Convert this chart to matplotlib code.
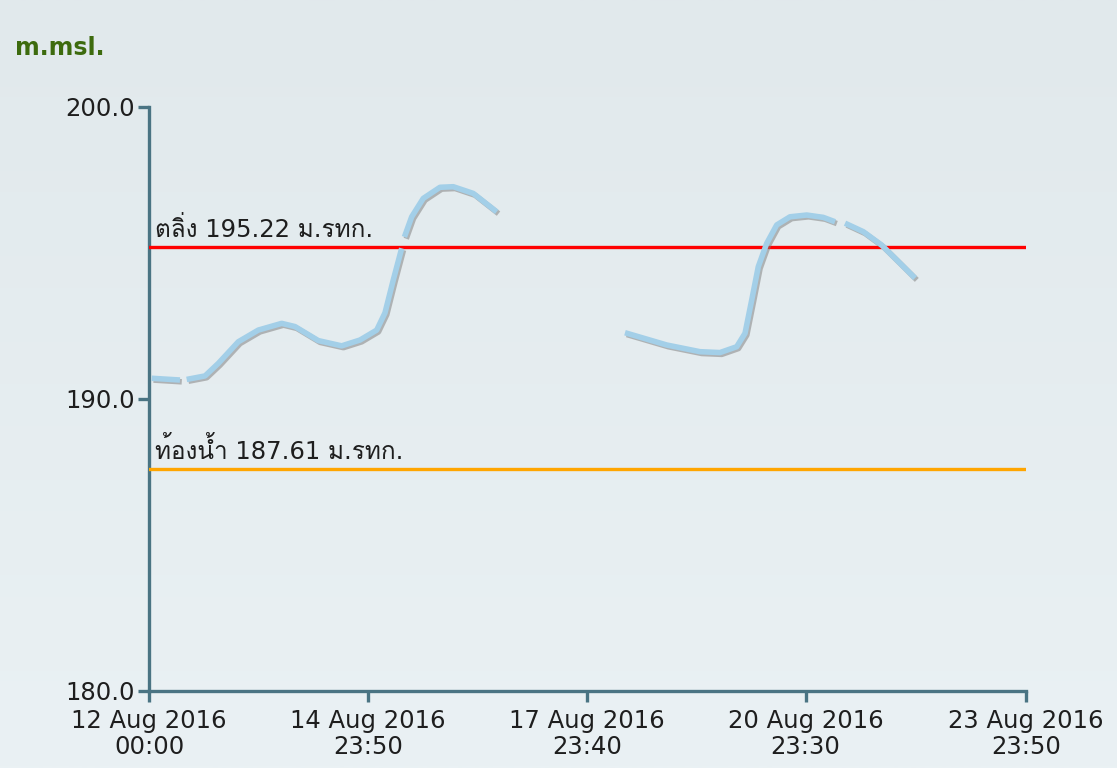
import numpy as np
import pandas as pd
import matplotlib
matplotlib.use("Agg")
import matplotlib.pyplot as plt
import matplotlib.patheffects as pe
from matplotlib import font_manager
from matplotlib.ft2font import FT2Font

# ---------------- data ----------------
times = [
    "2016-08-12 00:53", "2016-08-12 10:10", None,
    "2016-08-12 12:22", "2016-08-12 18:23", "2016-08-12 22:45", "2016-08-13 05:19",
    "2016-08-13 11:52", "2016-08-13 19:33", "2016-08-13 23:55", "2016-08-14 07:34",
    "2016-08-14 15:14", "2016-08-14 21:15", "2016-08-15 02:44", "2016-08-15 05:27",
    "2016-08-15 08:11", "2016-08-15 10:56", None,
    "2016-08-15 11:50", "2016-08-15 14:13", "2016-08-15 18:01", "2016-08-15 23:30",
    "2016-08-16 03:52", "2016-08-16 10:26", "2016-08-16 18:07", None,
    "2016-08-18 12:13", "2016-08-19 01:54", "2016-08-19 12:50", "2016-08-19 19:24",
    "2016-08-20 00:53", "2016-08-20 03:37", "2016-08-20 05:49", "2016-08-20 07:58",
    "2016-08-20 10:44", "2016-08-20 14:01", "2016-08-20 18:23", "2016-08-20 23:52",
    "2016-08-21 05:18", "2016-08-21 09:09", None,
    "2016-08-21 12:26", "2016-08-21 18:26", "2016-08-22 00:28", "2016-08-22 06:29",
    "2016-08-22 11:24",
]
levels = [
    190.71, 190.65, None,
    190.67, 190.79, 191.22, 191.96,
    192.36, 192.59, 192.48, 192.00,
    191.82, 192.02, 192.36, 192.95,
    194.08, 195.16, None,
    195.55, 196.24, 196.87, 197.25,
    197.27, 197.04, 196.41, None,
    192.27, 191.85, 191.62, 191.59,
    191.79, 192.25, 193.39, 194.53,
    195.33, 195.96, 196.24, 196.30,
    196.22, 196.07, None,
    196.02, 195.73, 195.27, 194.65,
    194.14,
]
bank_level = 195.22
bed_level = 187.61
bank_label = "ตลิ่ง 195.22 ม.รทก."
bed_label = "ท้องน้ำ 187.61 ม.รทก."
y_ticks = [180.0, 190.0, 200.0]
x_ticks = ["2016-08-12 00:00", "2016-08-14 23:50", "2016-08-17 23:40",
           "2016-08-20 23:30", "2016-08-23 23:50"]
x_tick_labels = ["12 Aug 2016\n00:00", "14 Aug 2016\n23:50", "17 Aug 2016\n23:40",
                 "20 Aug 2016\n23:30", "23 Aug 2016\n23:50"]
y_unit = "m.msl."

# ---------------- fonts ----------------
def find_thai_font():
    for f in font_manager.fontManager.ttflist:
        try:
            cm = FT2Font(f.fname).get_charmap()
            if 0x0E15 in cm and 0x0E49 in cm:
                return f.name
        except Exception:
            pass
    return None

thai = find_thai_font()
fam = ["DejaVu Sans"] + ([thai] if thai else [])
plt.rcParams["font.family"] = fam

FS = 17.5
TXT = "#1e1e1e"

# ---------------- figure ----------------
W, H, DPI = 1117, 768, 100
fig = plt.figure(figsize=(W / DPI, H / DPI), dpi=DPI)

bg = fig.add_axes([0, 0, 1, 1], zorder=-10)
grad = np.linspace(0, 1, 256).reshape(-1, 1)
c_top = np.array([225, 233, 236]) / 255
c_bot = np.array([234, 241, 244]) / 255
img = c_top + (c_bot - c_top) * grad[:, :, None]
bg.imshow(img, aspect="auto", extent=[0, 1, 0, 1])
bg.axis("off")

ax = fig.add_axes([149 / W, 1 - 691 / H, (1026 - 149) / W, (691 - 107) / H])
ax.patch.set_alpha(0)

t = pd.to_datetime(pd.Series(times))
v = pd.Series(levels, dtype=float)

ax.plot(t, v, color="#a3cfe8", lw=4.0, solid_capstyle="butt", solid_joinstyle="round",
        zorder=5,
        path_effects=[pe.SimpleLineShadow(offset=(1.3, -1.3), shadow_color="#7a7a7a", alpha=0.5),
                      pe.Normal()])

ax.axhline(bank_level, color="#ff0000", lw=2.4, zorder=4)
ax.axhline(bed_level, color="#ffa500", lw=2.4, zorder=4)

ax.annotate(bank_label, xy=(0, bank_level), xycoords=("axes fraction", "data"),
            xytext=(6, 10), textcoords="offset pixels", fontsize=FS,
            color=TXT, va="baseline", ha="left")
ax.annotate(bed_label, xy=(0, bed_level), xycoords=("axes fraction", "data"),
            xytext=(6, 10), textcoords="offset pixels", fontsize=FS,
            color=TXT, va="baseline", ha="left")

xt = pd.to_datetime(pd.Series(x_ticks))
ax.set_xlim(xt.iloc[0], xt.iloc[-1])
ax.set_ylim(y_ticks[0], y_ticks[-1])
ax.set_xticks(xt)
ax.set_xticklabels(x_tick_labels, fontsize=FS, color=TXT, linespacing=1.12)
ax.set_yticks(y_ticks)
ax.set_yticklabels([f"{y:.1f}" for y in y_ticks], fontsize=FS, color=TXT)

spine_c = "#4a7483"
for s in ["top", "right"]:
    ax.spines[s].set_visible(False)
for s in ["left", "bottom"]:
    ax.spines[s].set_color(spine_c)
    ax.spines[s].set_linewidth(2.4)
ax.tick_params(axis="both", colors=spine_c, length=8, width=2.4, direction="out", pad=2,
               labelcolor=TXT)
ax.tick_params(axis="x", pad=5)

fig.text(15 / W, 1 - 48 / H, y_unit, fontsize=17, fontweight="bold", color="#3d6b0e",
         ha="left", va="center")

fig.savefig("out.png", dpi=DPI)
